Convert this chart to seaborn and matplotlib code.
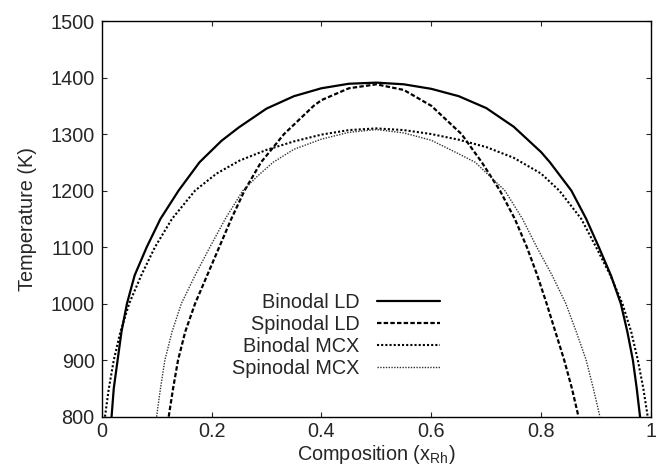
import matplotlib
matplotlib.use("Agg")
import matplotlib.pyplot as plt
import seaborn as sns

# values (composition x_Rh, temperature K)
binodal_ld_x = [0.018, 0.022, 0.029, 0.036, 0.046, 0.060, 0.082, 0.107, 0.140, 0.178, 0.218, 0.250,
                0.300, 0.350, 0.400, 0.450, 0.500, 0.550, 0.600, 0.650, 0.700, 0.750, 0.800,
                0.816, 0.855, 0.882, 0.905, 0.927, 0.945, 0.957, 0.967, 0.974, 0.980]
binodal_ld_t = [800, 850, 900, 950, 1000, 1050, 1100, 1150, 1200, 1250, 1288, 1312,
                1345, 1367, 1381, 1389, 1391, 1388, 1380, 1367, 1346, 1313, 1268,
                1250, 1200, 1150, 1100, 1050, 1000, 950, 900, 850, 800]

spinodal_ld_x = [0.122, 0.130, 0.139, 0.152, 0.170, 0.192, 0.214, 0.236, 0.260, 0.290, 0.332, 0.386,
                 0.400, 0.450, 0.500, 0.550, 0.600, 0.655, 0.692, 0.725, 0.752, 0.774, 0.793,
                 0.810, 0.826, 0.842, 0.856, 0.868]
spinodal_ld_t = [800, 850, 900, 950, 1000, 1050, 1100, 1150, 1200, 1250, 1300, 1350,
                 1360, 1381, 1388, 1378, 1350, 1300, 1250, 1200, 1150, 1100, 1050,
                 1000, 950, 900, 850, 800]

binodal_mcx_x = [0.006, 0.013, 0.022, 0.034, 0.050, 0.072, 0.097, 0.128, 0.170, 0.209, 0.251,
                 0.300, 0.350, 0.400, 0.450, 0.500, 0.550, 0.600, 0.650, 0.700, 0.750, 0.800,
                 0.833, 0.873, 0.900, 0.926, 0.948, 0.964, 0.976, 0.986, 0.994]
binodal_mcx_t = [800, 850, 900, 950, 1000, 1050, 1100, 1150, 1200, 1230, 1253,
                 1272, 1287, 1299, 1307, 1310, 1307, 1300, 1290, 1277, 1258, 1230,
                 1200, 1150, 1100, 1050, 1000, 950, 900, 850, 800]

spinodal_mcx_x = [0.100, 0.107, 0.115, 0.128, 0.145, 0.170, 0.197, 0.225, 0.257, 0.283, 0.312,
                  0.350, 0.400, 0.450, 0.500, 0.550, 0.600, 0.650,
                  0.680, 0.707, 0.734, 0.766, 0.792, 0.820, 0.845, 0.864, 0.882, 0.895, 0.907]
spinodal_mcx_t = [800, 850, 900, 950, 1000, 1050, 1100, 1150, 1200, 1225, 1250,
                  1273, 1291, 1303, 1308, 1302, 1289, 1265,
                  1250, 1225, 1200, 1150, 1100, 1050, 1000, 950, 900, 850, 800]

sns.set_style("ticks", {"xtick.direction": "in", "ytick.direction": "in"})
plt.rcParams["font.family"] = ["Liberation Sans", "DejaVu Sans"]
plt.rcParams["font.size"] = 14.3

fig, ax = plt.subplots(figsize=(6.56, 4.72), dpi=100)
fig.subplots_adjust(left=0.155, right=0.9924, top=0.9555, bottom=0.1172)

sns.lineplot(x=binodal_ld_x, y=binodal_ld_t, ax=ax, color="black", lw=1.6,
             estimator=None, label="Binodal LD")
sns.lineplot(x=spinodal_ld_x, y=spinodal_ld_t, ax=ax, color="black", lw=1.6,
             linestyle=(0, (2.0, 1.0)), estimator=None, label="Spinodal LD")
sns.lineplot(x=binodal_mcx_x, y=binodal_mcx_t, ax=ax, color="black", lw=1.5,
             linestyle=(0, (1.0, 1.0)), estimator=None, label="Binodal MCX")
sns.lineplot(x=spinodal_mcx_x, y=spinodal_mcx_t, ax=ax, color="#333333", lw=1.0,
             linestyle=(0, (1.0, 1.0)), estimator=None, label="Spinodal MCX")

ax.set_xlim(0, 1)
ax.set_ylim(800, 1500)
ax.set_xticks([0, 0.2, 0.4, 0.6, 0.8, 1])
ax.set_xticklabels(["0", "0.2", "0.4", "0.6", "0.8", "1"])
ax.set_yticks(range(800, 1501, 100))
ax.tick_params(top=True, right=True, direction="in", length=3.6, width=0.8,
               labelsize=14.3)
ax.tick_params(axis="x", pad=4)
ax.tick_params(axis="y", pad=5)
for s in ax.spines.values():
    s.set_linewidth(1.0)
    s.set_color("black")

ax.set_xlabel("Composition ($\\mathregular{x_{Rh}}$)", fontsize=14.3, labelpad=1)
ax.set_ylabel("Temperature (K)", fontsize=14.3, labelpad=10)

ax.legend(loc="center right", bbox_to_anchor=(0.671, 0.29), bbox_transform=fig.transFigure,
          frameon=False, markerfirst=False, handlelength=3.2, handletextpad=0.85,
          labelspacing=0.15, borderpad=0, borderaxespad=0, fontsize=14.3)

plt.savefig("out.png", dpi=100)
plt.close()
